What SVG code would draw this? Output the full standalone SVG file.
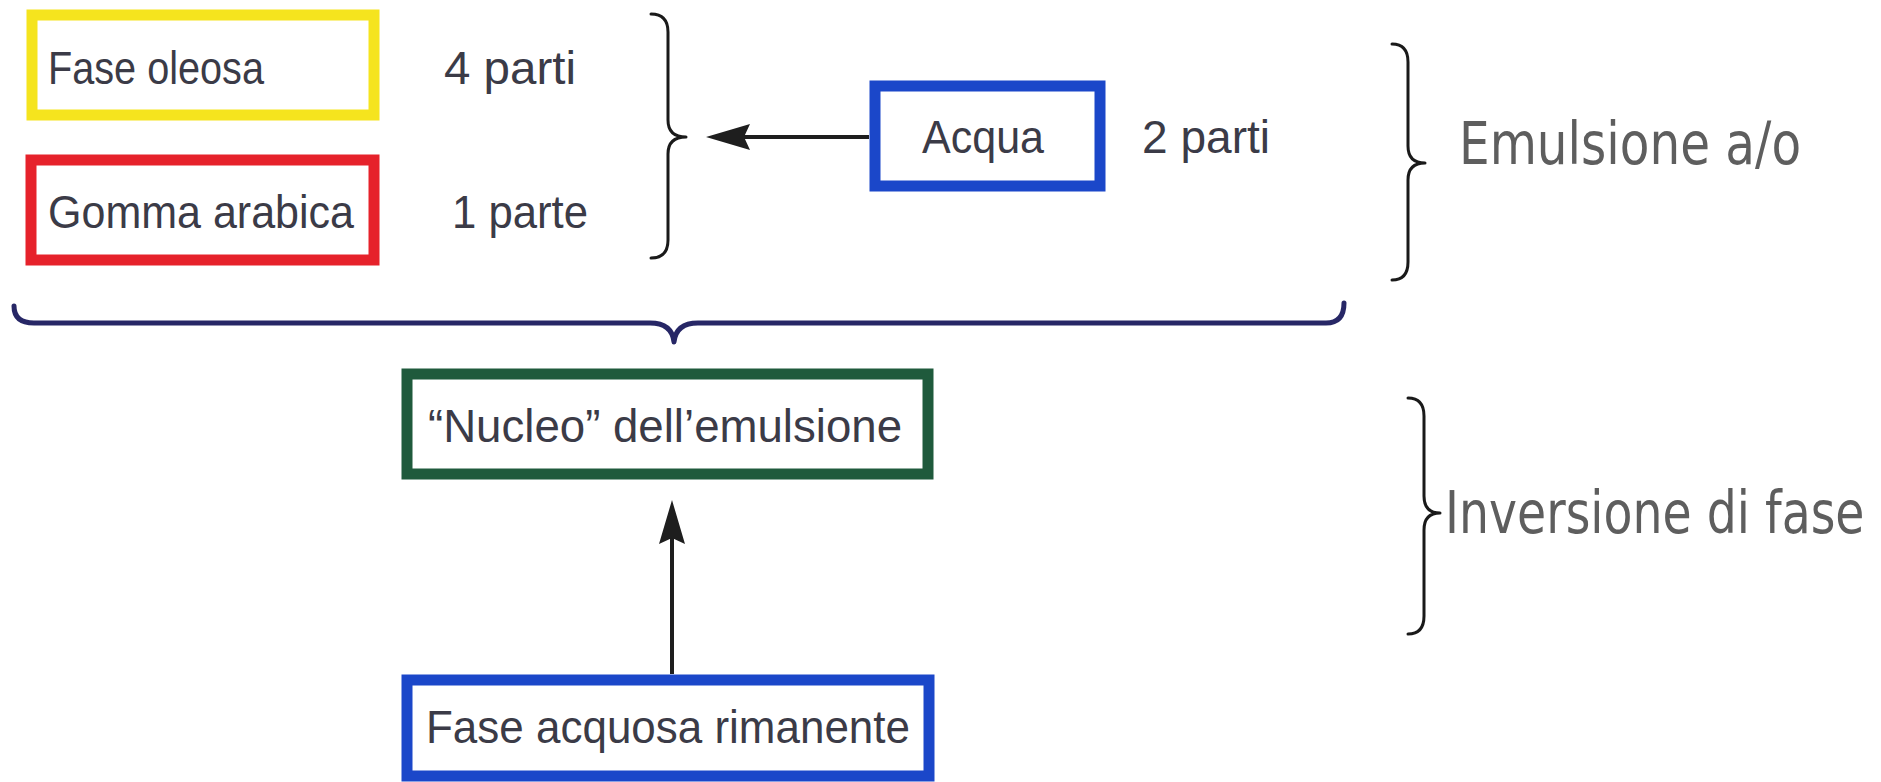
<svg xmlns="http://www.w3.org/2000/svg" width="1881" height="782" viewBox="0 0 1881 782">
  <defs>
    <style>
      .box { fill: #ffffff; stroke-width: 11; }
      .lbl { font-family: "Liberation Sans", Arial, sans-serif; font-size: 47px; fill: #3b3b47; }
      .side { font-family: "DejaVu Sans", Verdana, sans-serif; font-size: 58px; fill: #5e5e5e; }
      .brace { fill: none; stroke: #1a1a1a; stroke-width: 3; stroke-linecap: round; stroke-linejoin: round; }
      .conn { fill: none; stroke: #1e1e1e; stroke-width: 4; }
    </style>
    <marker id="arrow" viewBox="0 0 44 26" refX="20" refY="13" markerWidth="44" markerHeight="26" markerUnits="userSpaceOnUse" orient="auto">
      <path d="M0,0 L44,13 L0,26 L6,13 Z" fill="#1e1e1e"/>
    </marker>
  </defs>
  <rect width="1881" height="782" fill="#ffffff"/>

  <g id="fase-oleosa">
    <rect class="box" x="32" y="15" width="342" height="100" stroke="#f5e41e"/>
    <text class="lbl" x="48" y="84" textLength="216" lengthAdjust="spacingAndGlyphs">Fase oleosa</text>
    <text class="lbl" x="444" y="84" textLength="132" lengthAdjust="spacingAndGlyphs">4 parti</text>
  </g>

  <g id="gomma-arabica">
    <rect class="box" x="31" y="160" width="343" height="100" stroke="#e6222b"/>
    <text class="lbl" x="48" y="228" textLength="306" lengthAdjust="spacingAndGlyphs">Gomma arabica</text>
    <text class="lbl" x="452" y="228" textLength="136" lengthAdjust="spacingAndGlyphs">1 parte</text>
  </g>

  <g id="acqua">
    <rect class="box" x="875" y="86" width="225" height="100" stroke="#1b47c9"/>
    <text class="lbl" x="922" y="153" textLength="122" lengthAdjust="spacingAndGlyphs">Acqua</text>
    <text class="lbl" x="1142" y="153" textLength="128" lengthAdjust="spacingAndGlyphs">2 parti</text>
  </g>

  <g id="nucleo">
    <rect class="box" x="407" y="374" width="521" height="100" stroke="#1f5a3c"/>
    <text class="lbl" x="428" y="442" textLength="474" lengthAdjust="spacingAndGlyphs">“Nucleo” dell’emulsione</text>
  </g>

  <g id="fase-acquosa">
    <rect class="box" x="407" y="680" width="522" height="96" stroke="#1b47c9"/>
    <text class="lbl" x="426" y="743" textLength="484" lengthAdjust="spacingAndGlyphs">Fase acquosa rimanente</text>
  </g>

  <g id="emulsione-label">
    <path class="brace" d="M1392,44 Q1408,44 1408,62 L1408,146 Q1408,163 1425,163 Q1408,163 1408,180 L1408,262 Q1408,280 1392,280"/>
    <text class="side" transform="translate(1459,164) scale(0.836,1)">Emulsione a/o</text>
  </g>

  <g id="inversione-label">
    <path class="brace" d="M1408,398 Q1424,398 1424,416 L1424,496 Q1424,513 1440,513 Q1424,513 1424,530 L1424,616 Q1424,634 1408,634"/>
    <text class="side" transform="translate(1445,533) scale(0.817,1)">Inversione di fase</text>
  </g>

  <g id="connectors">
    <path class="brace" d="M651,14 Q668,14 668,32 L668,120 Q668,137 686,137 Q668,137 668,154 L668,240 Q668,258 651,258" stroke-width="4"/>
    <path d="M14,306 Q14,323 34,323 L650,323 Q672,323 674,342 Q676,323 698,323 L1326,323 Q1344,323 1344,303" fill="none" stroke="#272766" stroke-width="5" stroke-linecap="round" stroke-linejoin="round"/>
    <line class="conn" x1="869" y1="137" x2="730" y2="137" marker-end="url(#arrow)"/>
    <line class="conn" x1="672" y1="674" x2="672" y2="524" marker-end="url(#arrow)"/>
  </g>
</svg>
